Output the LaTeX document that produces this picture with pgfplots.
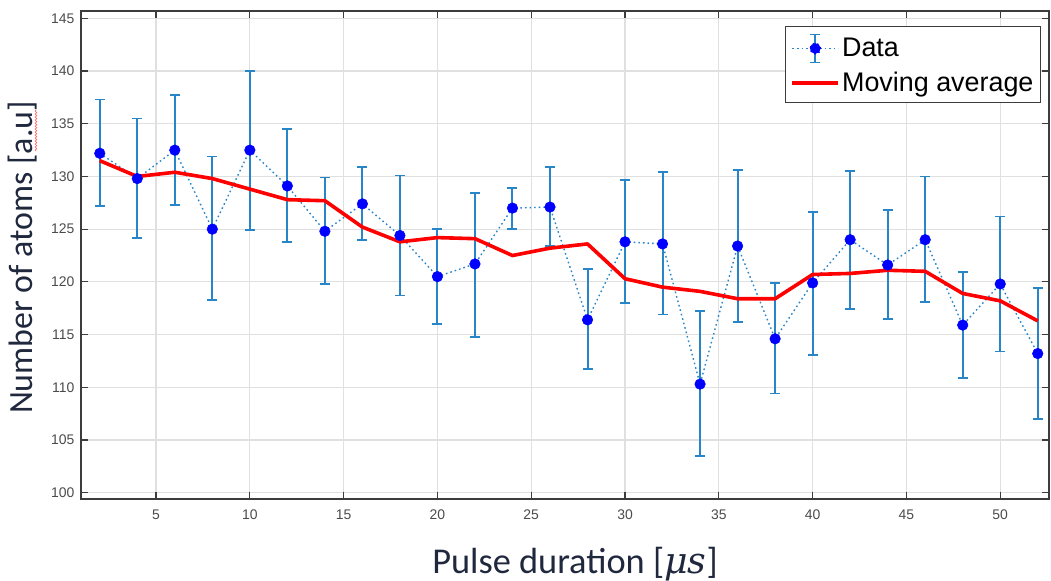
\documentclass[border=0pt]{standalone}
\usepackage{pgfplots}
\pgfplotsset{compat=1.18}
\usepackage{pgfplotstable}
\usepackage{fontspec}
\setmainfont{Liberation Sans}
\newfontfamily\calibri{Carlito}
\newfontfamily\dvserif{DejaVu Serif}
\usetikzlibrary{decorations.pathmorphing}

\definecolor{ebblue}{RGB}{40,133,200}
\definecolor{mkblue}{RGB}{0,0,255}
\definecolor{axgray}{RGB}{60,60,60}
\definecolor{tkgray}{RGB}{75,75,75}
\definecolor{gridgray}{RGB}{224,224,224}
\definecolor{labnavy}{RGB}{32,40,62}

% x, value, error up, error down, moving average
\pgfplotstableread{
x  y     ep  em  ma
2  132.2 5.1 5.0 131.5
4  129.8 5.7 5.6 130.0
6  132.5 5.2 5.2 130.4
8  125.0 6.9 6.7 129.8
10 132.5 7.5 7.6 128.8
12 129.1 5.4 5.3 127.8
14 124.8 5.1 5.0 127.7
16 127.4 3.5 3.4 125.2
18 124.4 5.7 5.7 123.8
20 120.5 4.5 4.5 124.2
22 121.7 6.7 6.9 124.1
24 127.0 1.9 2.0 122.5
26 127.1 3.8 3.7 123.2
28 116.4 4.8 4.7 123.6
30 123.8 5.9 5.8 120.3
32 123.6 6.8 6.7 119.5
34 110.3 6.9 6.8 119.1
36 123.4 7.2 7.2 118.4
38 114.6 5.3 5.2 118.4
40 119.9 6.7 6.8 120.7
42 124.0 6.5 6.6 120.8
44 121.6 5.2 5.1 121.1
46 124.0 6.0 5.9 121.0
48 115.9 5.0 5.0 118.9
50 119.8 6.4 6.4 118.2
52 113.2 6.2 6.2 116.3
}\datatab

\begin{document}
\begin{tikzpicture}
\begin{axis}[
  name=ax,
  scale only axis,
  width=968bp, height=488bp,
  xmin=1, xmax=52.6,
  ymin=99.4, ymax=145.7,
  xtick={5,10,...,50},
  ytick={100,105,...,145},
  grid=major,
  grid style={gridgray, line width=1.2bp},
  axis line style={axgray, line width=1.4bp},
  major tick style={axgray, line width=1.2bp},
  major tick length=7bp,
  tick align=inside,
  /pgf/number format/assume math mode=true,
  ticklabel style={font=\fontsize{14}{16}\selectfont, color=tkgray},
  yticklabel style={xshift=-3bp},
  xticklabel style={yshift=-7.5bp},
  xlabel={Pulse duration [{\dvserif\itshape μs}]},
  ylabel={Number of atoms [a.u]},
  xlabel style={font=\calibri\fontsize{36.5}{40}\selectfont, color=labnavy,
    at={(axis description cs:0.5,0)}, anchor=base, yshift=-74bp, xshift=10bp},
  % label is rotated: xshift runs along the axis, yshift away from it
  ylabel style={font=\calibri\fontsize{34}{38}\selectfont, color=labnavy,
    at={(axis description cs:0,0.5)}, anchor=base, xshift=-2.5bp, yshift=48bp},
  legend style={at={(1,1)}, anchor=north east, xshift=-8bp, yshift=-15bp,
    draw=axgray, line width=1bp, fill=white,
    font=\fontsize{27}{30}\selectfont, inner xsep=5bp, inner ysep=7bp, row sep=7bp,
    nodes={inner sep=2bp}},
  legend cell align=left,
]
\addplot[ebblue, line width=1.4bp, dash pattern=on 1.6bp off 3bp,
  mark=*, mark size=5.3bp,
  mark options={solid, fill=mkblue, draw=mkblue, line width=0.5bp},
  error bars/.cd, y dir=both, y explicit,
  error bar style={solid, ebblue, line width=2bp},
  error mark options={solid, rotate=90, mark size=5bp, line width=1.8bp, ebblue},
  /pgfplots/legend image code/.code={
    \draw[ebblue, line width=1.4bp, dash pattern=on 1.6bp off 3bp] (0bp,0bp) -- (46bp,0bp);
    \draw[ebblue, solid, line width=2bp] (23bp,-14bp) -- (23bp,14bp);
    \draw[ebblue, solid, line width=1.8bp] (18bp,14bp) -- (28bp,14bp) (18bp,-14bp) -- (28bp,-14bp);
    \fill[mkblue] (23bp,0bp) circle (5.3bp);
  },
] table[x=x, y=y, y error plus=ep, y error minus=em] {\datatab};
\addlegendentry{Data}
\addplot[red, line width=3.6bp, no markers, line join=round,
  legend image code/.code={\draw[red, line width=3.6bp] (0bp,0bp) -- (46bp,0bp);},
] table[x=x, y=ma] {\datatab};
\addlegendentry{Moving average}
\end{axis}
% spell-check squiggle under "a.u" in the y label
\draw[red!60, line width=0.7bp, decorate, decoration={snake, amplitude=0.8bp, segment length=3bp}]
  ([xshift=-45bp,yshift=348bp]ax.south west) -- ([xshift=-45bp,yshift=389bp]ax.south west);
\pgfresetboundingbox
\path[use as bounding box] ([xshift=-81bp,yshift=-82bp]ax.south west) rectangle ([xshift=2bp,yshift=11bp]ax.north east);
\end{tikzpicture}
\end{document}
